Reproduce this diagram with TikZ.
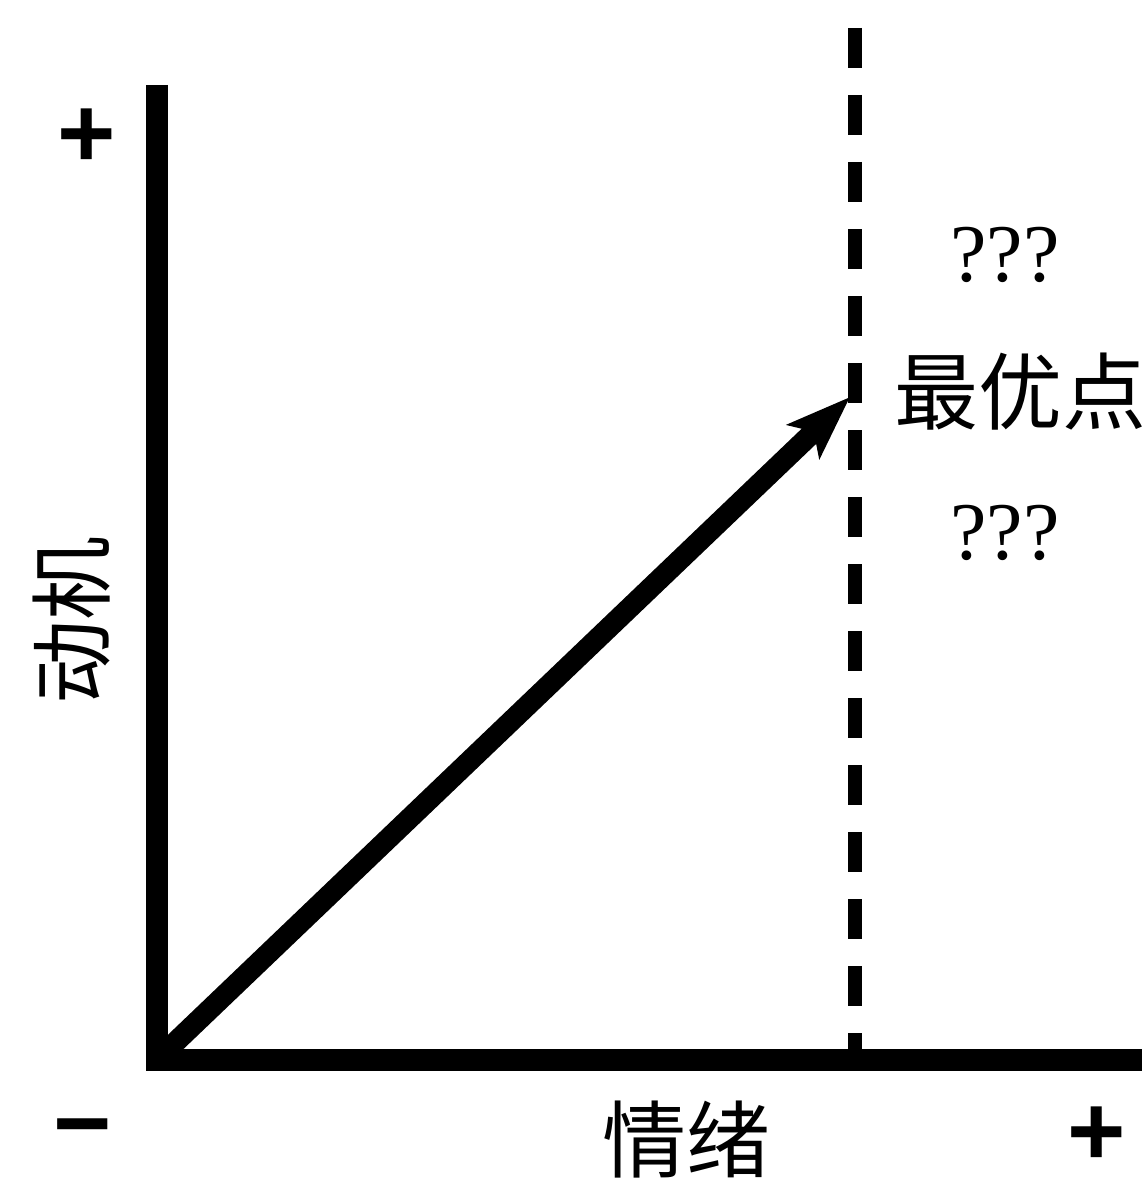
\documentclass[tikz,border=0pt]{standalone}
\usepackage{fontspec}
\setmainfont{Liberation Serif}
\newfontfamily\cjk{Noto Sans CJK SC}
\newfontfamily\signfont{Liberation Sans}
\usetikzlibrary{arrows.meta}
\begin{document}
\begin{tikzpicture}[x=1pt,y=-1pt,
  axisline/.style={line width=22pt},
  guide/.style={line width=14pt, dash pattern=on 40pt off 27pt},
  vec/.style={line width=21pt, -{Stealth[length=64pt,width=46pt,inset=14pt]}},
  cjklabel/.style={font=\cjk\fontsize{84}{90}\selectfont, inner sep=0pt},
  qlabel/.style={font=\fontsize{82}{90}\selectfont, inner sep=0pt},
  sign/.style={font=\signfont\bfseries\fontsize{100}{110}\selectfont, inner sep=0pt}]
\useasboundingbox (0,0) rectangle (1145,1185);
% coordinates
\coordinate (ytop) at (157,85);
\coordinate (ybot) at (157,1070);
\coordinate (xleft) at (146,1060);
\coordinate (xright) at (1142,1060);
\coordinate (dtop) at (855,28);
\coordinate (dbot) at (855,1060);
\coordinate (O) at (162,1055);
\coordinate (T) at (850,397);
% axes
\draw[axisline] (ytop) -- (ybot);
\draw[axisline] (xleft) -- (xright);
% dashed optimum line
\draw[guide] (dtop) -- (dbot);
% arrow
\draw[vec] (O) -- (T);
% labels
\node[sign] (yplus) at (87,138) {+};
\node[sign] (xminus) at (83,1138) {−};
\node[sign] (xplus) at (1097,1136) {+};
\node[cjklabel] (xlab) at (686,1140) {情绪};
\node[cjklabel, rotate=90] (ylab) at (72,620) {动机};
\node[qlabel] (q1) at (1005,255) {???};
\node[cjklabel] (opt) at (1020,392) {最优点};
\node[qlabel] (q2) at (1005,533) {???};
\end{tikzpicture}
\end{document}
